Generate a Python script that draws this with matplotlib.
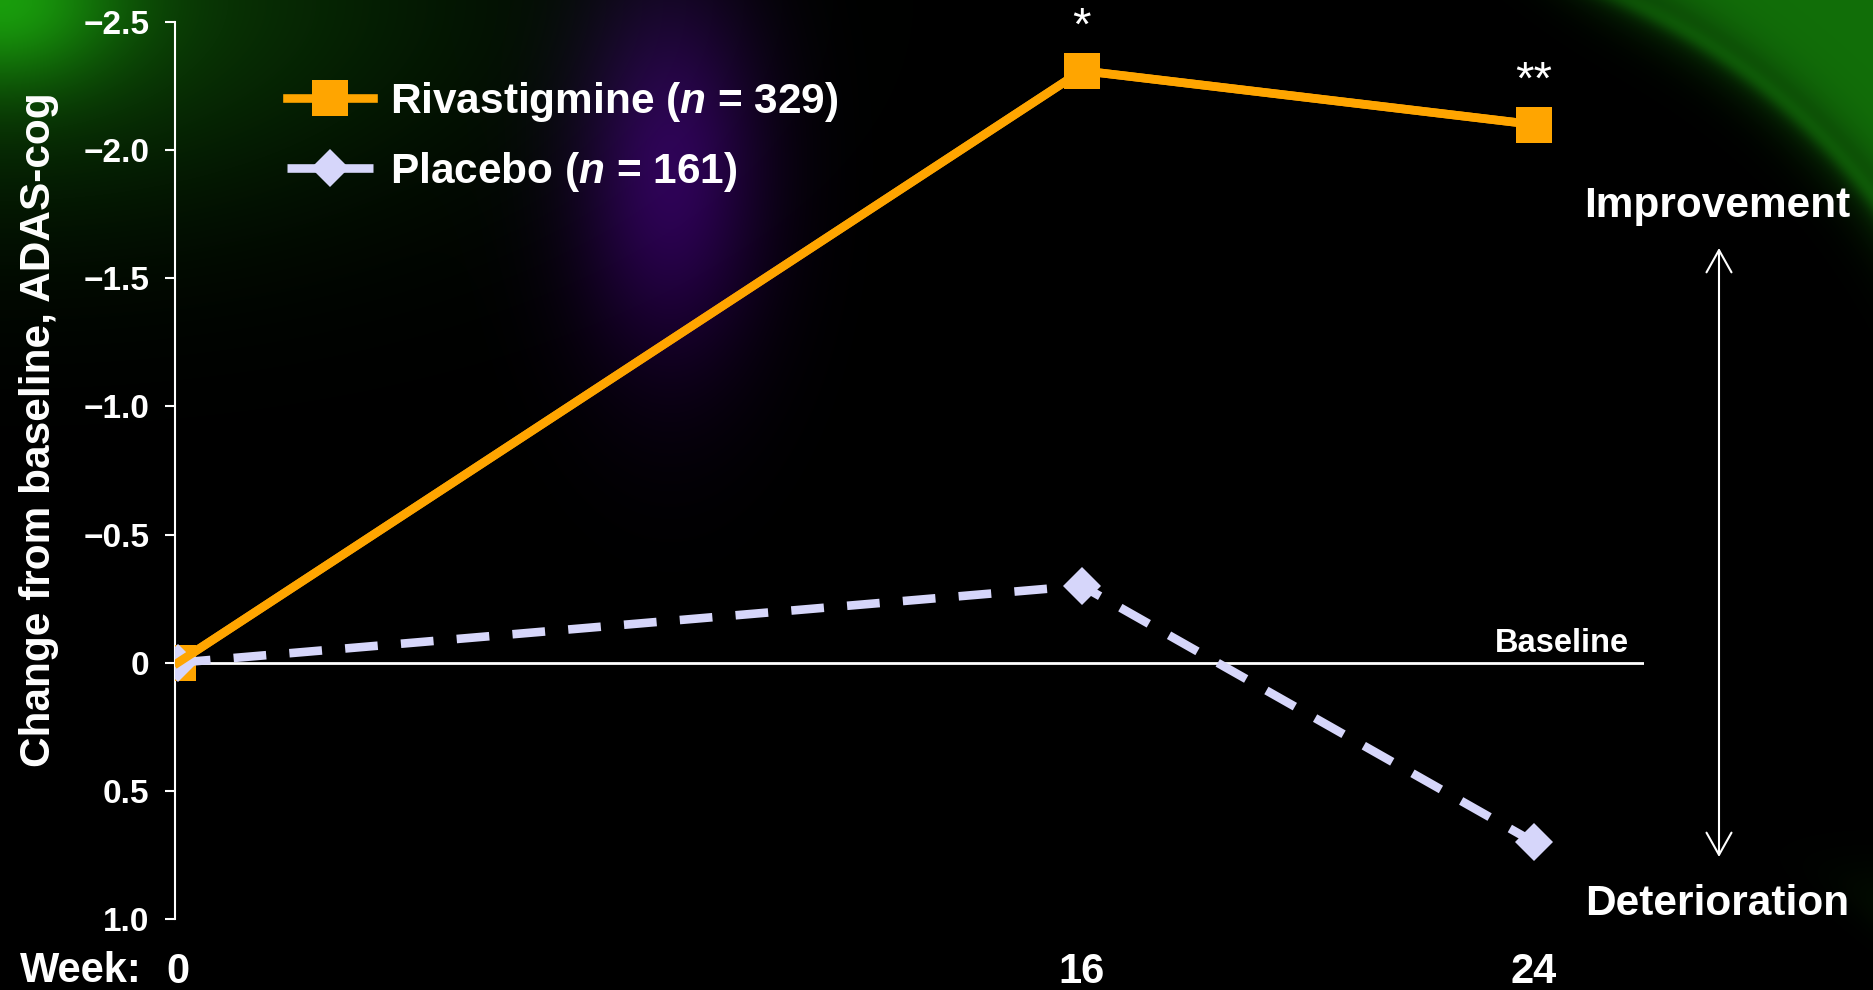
import numpy as np
import matplotlib
matplotlib.use("Agg")
import matplotlib.pyplot as plt

plt.rcParams["font.family"] = ["Liberation Sans", "DejaVu Sans"]
plt.rcParams["mathtext.fontset"] = "custom"
plt.rcParams["mathtext.it"] = "Liberation Sans:italic:bold"
plt.rcParams["mathtext.rm"] = "Liberation Sans:bold"

# ---- data -----------------------------------------------------------------
weeks = [0, 16, 24]
rivastigmine = [0.0, -2.31, -2.10]
placebo = [0.0, -0.30, 0.70]
rivastigmine_marks = ["", "*", "**"]
legend_labels = ["Rivastigmine ($n$ = 329)", "Placebo ($n$ = 161)"]
y_ticks = [-2.5, -2.0, -1.5, -1.0, -0.5, 0.0, 0.5, 1.0]
y_tick_labels = ["\u22122.5", "\u22122.0", "\u22121.5", "\u22121.0",
                 "\u22120.5", "0", "0.5", "1.0"]
week_labels = ["0", "16", "24"]

# ---- figure ---------------------------------------------------------------
W, H = 1874, 990
ORANGE = "#FFA500"
LAVENDER = "#D6D6FA"
WHITE = "white"
LW = 6.2


def fx(px):
    return px / W


def fy(py):
    return 1 - py / H


def sigmoid(v):
    return 1 / (1 + np.exp(-v))


fig = plt.figure(figsize=(W / 100, H / 100), dpi=100)
fig.patch.set_facecolor("black")

# dark slide backdrop with soft coloured glows
yy, xx = np.mgrid[0:H, 0:W].astype(float)
img = np.zeros((H, W, 3))
corner = (0.32 * np.exp(-((xx / 450) ** 2 + (yy / 210) ** 2))
          + 0.50 * np.exp(-((xx / 120) ** 2 + (yy / 85) ** 2)))
img += corner[..., None] * np.array([0.12, 0.75, 0.06])
violet = np.exp(-((xx - 670) / 95) ** 2) * np.exp(-((yy - 170) / 190) ** 2)
img += violet[..., None] * np.array([0.18, 0.0, 0.34])
edge = np.hypot(xx - 1350, yy - 600) - 660
arc = 0.70 * sigmoid(edge / 16) + 0.20 * np.exp(-(edge / 10) ** 2)
arc *= sigmoid((xx - 1560) / 30) * sigmoid((430 - yy) / 40)
img += arc[..., None] * np.array([0.10, 0.62, 0.05])
edge2 = np.hypot(xx - 1500, yy - 1500) - 700
arc2 = (0.40 * sigmoid(edge2 / 10) * np.exp(-((xx - 1874) / 120) ** 2)
        * np.exp(-((yy - 990) / 80) ** 2))
img += arc2[..., None] * np.array([0.10, 0.55, 0.05])
img = np.clip(img, 0, 1)

bg = fig.add_axes([0, 0, 1, 1], zorder=-10)
bg.imshow(img, aspect="auto", interpolation="bilinear")
bg.axis("off")

ax = fig.add_axes([fx(175), fy(919), fx(1644) - fx(175), fy(22) - fy(919)])
ax.set_facecolor("none")
ax.set_xlim(-0.05, 25.95)
ax.set_ylim(1.0, -2.5)

for side in ("top", "right", "bottom"):
    ax.spines[side].set_visible(False)
ax.spines["left"].set_color(WHITE)
ax.spines["left"].set_linewidth(1.5)

# baseline reference
ax.axhline(0, color=WHITE, lw=2, zorder=1)

riva_line, = ax.plot(weeks, rivastigmine, color=ORANGE, lw=LW, marker="s",
                     ms=26.5, mew=0, zorder=3)
plac_line, = ax.plot(weeks, placebo, color=LAVENDER, lw=LW, dashes=(3.8, 2.7),
                     marker="D", ms=19.5, mew=0, zorder=4)
ax.plot(weeks, rivastigmine, color=ORANGE, lw=LW, zorder=5)

for wk, val, mark in zip(weeks, rivastigmine, rivastigmine_marks):
    if mark:
        ax.annotate(mark, (wk, val), xytext=(0, 22), textcoords="offset points",
                    ha="center", va="baseline", size=34, color=WHITE)

ax.annotate("Baseline", (1, 0), xycoords=("axes fraction", "data"),
            xytext=(-11, 7.5), textcoords="offset points", ha="right",
            va="baseline", size=23.5, weight="bold", color=WHITE)

# ticks
ax.set_yticks(y_ticks, y_tick_labels)
ax.tick_params(axis="y", colors=WHITE, length=7, width=1.5, pad=11.5,
               labelsize=24)
ax.set_xticks(weeks, week_labels)
ax.tick_params(axis="x", length=0, pad=24, labelsize=30, labelcolor=WHITE)
for lbl in ax.get_yticklabels() + ax.get_xticklabels():
    lbl.set_fontweight("bold")

fig.text(fx(142), fy(982), "Week:", ha="right", va="baseline", size=30,
         weight="bold", color=WHITE)
fig.text(fx(50), fy(430), "Change from baseline, ADAS-cog", rotation=90,
         rotation_mode="anchor", ha="center", va="baseline", size=30.5,
         weight="bold", color=WHITE)

# direction guide on the right
ax.annotate("", xy=(fx(1719), fy(248)), xytext=(fx(1719), fy(857)),
            xycoords="figure fraction", textcoords="figure fraction",
            arrowprops=dict(arrowstyle="<->,head_length=0.8,head_width=0.45",
                            color=WHITE, lw=1.5, mutation_scale=20,
                            shrinkA=0, shrinkB=0))
fig.text(fx(1717), fy(217), "Improvement", ha="center", va="baseline",
         size=30.5, weight="bold", color=WHITE)
fig.text(fx(1717), fy(915), "Deterioration", ha="center", va="baseline",
         size=30.5, weight="bold", color=WHITE)

leg = ax.legend(handles=[riva_line, plac_line], labels=legend_labels,
                loc="upper left", bbox_to_anchor=(fx(287), fy(80)),
                bbox_transform=fig.transFigure, frameon=False,
                prop={"size": 30.5, "weight": "bold"}, handlelength=2.03,
                handletextpad=0.4, borderpad=0, borderaxespad=0,
                labelspacing=0.62, numpoints=1, labelcolor=WHITE)

fig.savefig("out.png", dpi=100, facecolor=fig.get_facecolor())
